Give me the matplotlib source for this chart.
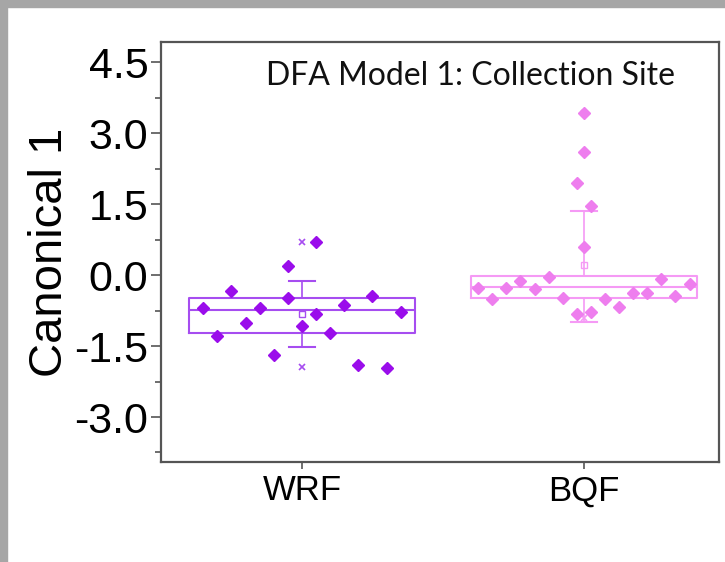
import matplotlib.pyplot as plt
from matplotlib.patches import Rectangle

# groups
groups = ["WRF", "BQF"]

# individual canonical scores and the horizontal jitter
wrf_vals = [0.69, 0.19, -0.34, -0.49, -0.45, -0.70, -0.70, -0.64, -0.83,
            -0.79, -1.02, -1.08, -1.23, -1.29, -1.69, -1.91, -1.97]
wrf_jit = [0.05, -0.05, -0.25, -0.05, 0.25, -0.35, -0.15, 0.15, 0.05,
           0.35, -0.20, 0.0, 0.10, -0.30, -0.10, 0.20, 0.30]

bqf_vals = [3.42, 2.60, 1.94, 1.46, 0.59, -0.28, -0.51, -0.28, -0.13, -0.30,
            -0.05, -0.49, -0.83, -0.79, -0.51, -0.68, -0.38, -0.38, -0.09,
            -0.45, -0.19]
bqf_jit = [0.0, 0.0, -0.025, 0.025, 0.0, -0.375, -0.325, -0.275, -0.225,
           -0.175, -0.125, -0.075, -0.025, 0.025, 0.075, 0.125, 0.175,
           0.225, 0.275, 0.325, 0.375]

# box statistics (q1, median, q3, whiskers, mean, min, max)
q1 = [-1.23, -0.49]
med = [-0.74, -0.26]
q3 = [-0.49, -0.02]
whislo = [-1.53, -0.99]
whishi = [-0.13, 1.35]
means = [-0.83, 0.21]
mins = [-1.95, -0.90]
maxs = [0.69, 3.42]

box_cols = ["#A64DF0", "#F59AF5"]
pt_cols = ["#9A0DEB", "#EE7EEE"]

fig = plt.figure(figsize=(7.25, 5.62), dpi=100)
ax = fig.add_axes([0.222, 0.178, 0.770, 0.747])

stats = []
for i, g in enumerate(groups):
    stats.append(dict(label=g, q1=q1[i], med=med[i], q3=q3[i],
                      whislo=whislo[i], whishi=whishi[i], mean=means[i],
                      fliers=[]))

for i in range(2):
    c = box_cols[i]
    ax.bxp([stats[i]], positions=[i + 1], widths=0.8, capwidths=0.09,
           showmeans=True, manage_ticks=False,
           boxprops=dict(color=c, linewidth=1.5),
           medianprops=dict(color=c, linewidth=1.5),
           whiskerprops=dict(color=c, linewidth=1.2),
           capprops=dict(color=c, linewidth=1.5),
           meanprops=dict(marker="s", markersize=4, markerfacecolor="none",
                          markeredgecolor=c, markeredgewidth=1))
    ax.plot([i + 1, i + 1], [mins[i], maxs[i]], "x", color=c,
            markersize=4, markeredgewidth=1.2, zorder=3)

ax.plot([1 + j for j in wrf_jit], wrf_vals, "D", color=pt_cols[0],
        markersize=6.5, linestyle="none", zorder=4)
ax.plot([2 + j for j in bqf_jit], bqf_vals, "D", color=pt_cols[1],
        markersize=6.5, linestyle="none", zorder=4)

ax.set_xlim(0.5, 2.48)
ax.set_ylim(-3.95, 4.92)
ax.set_xticks([1, 2])
ax.set_xticklabels(groups, fontsize=25, family="Liberation Sans")
ax.set_yticks([-3.0, -1.5, 0.0, 1.5, 3.0, 4.5])
ax.set_yticklabels(["-3.0", "-1.5", "0.0", "1.5", "3.0", "4.5"],
                   fontsize=31, family="Liberation Sans")
ax.set_yticks([-3.75, -2.25, -0.75, 0.75, 2.25, 3.75], minor=True)
ax.tick_params(axis="y", which="major", length=7, width=1.2, color="#555555", pad=2)
ax.tick_params(axis="y", which="minor", length=4, width=1.2, color="#555555")
ax.tick_params(axis="x", length=5, width=1.2, color="#555555", pad=4)
for s in ax.spines.values():
    s.set_color("#555555")
    s.set_linewidth(1.6)

ax.set_ylabel("Canonical 1", fontsize=34, family="Liberation Sans", labelpad=2)

ax.text(0.554, 0.919, "DFA Model 1: Collection Site", transform=ax.transAxes,
        ha="center", va="center", fontsize=23, family="Lato", color="#111111")

# grey frame of the screenshot
fig.add_artist(Rectangle((0, 0), 0.0097, 1, transform=fig.transFigure,
                         color="#A6A6A6", zorder=0))
fig.add_artist(Rectangle((0, 0.9875), 1, 0.0125, transform=fig.transFigure,
                         color="#A6A6A6", zorder=0))

fig.savefig("out.png", dpi=100)
